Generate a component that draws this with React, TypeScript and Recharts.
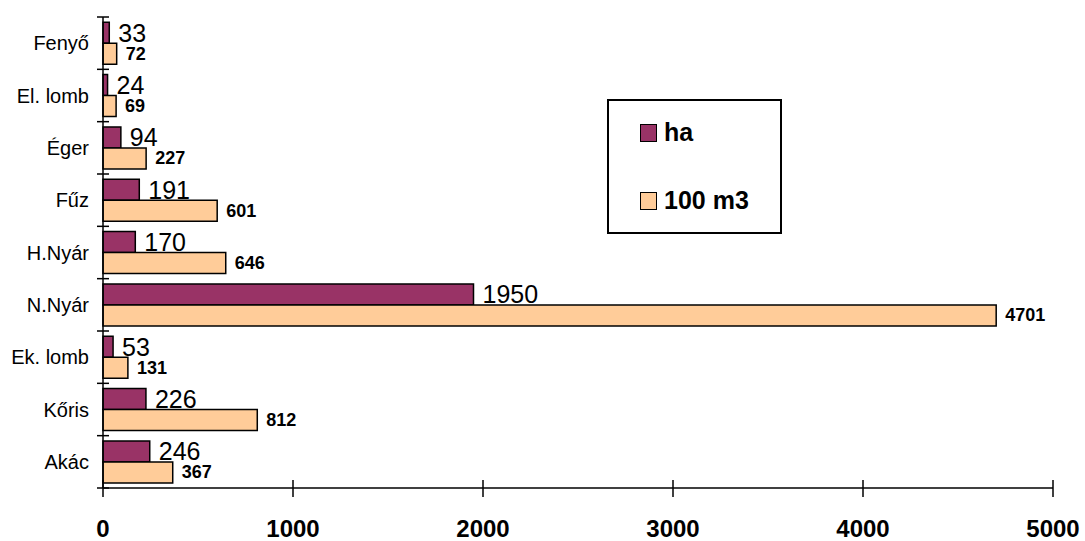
import { BarChart, Bar, XAxis, YAxis, LabelList } from 'recharts';

const categories = ['Fenyő', 'El. lomb', 'Éger', 'Fűz', 'H.Nyár', 'N.Nyár', 'Ek. lomb', 'Kőris', 'Akác'];
const haValues = [33, 24, 94, 191, 170, 1950, 53, 226, 246];
const m3Values = [72, 69, 227, 601, 646, 4701, 131, 812, 367];
const xTicks = [0, 1000, 2000, 3000, 4000, 5000];
const seriesNames = ['ha', '100 m3'];
const seriesColors = ['#993366', '#FFCC99'];

const data = categories.map((name, i) => ({ name, ha: haValues[i], m3: m3Values[i] }));

const W = 1085;
const H = 541;
const M = { top: 17, right: 32, left: 0, bottom: 0 };
const Y_W = 103;
const X_H = 53;
const HALF_BAND = (H - M.top - X_H) / categories.length / 2;
const FONT = '"Liberation Sans", Arial, sans-serif';

function YTick(props: any) {
  const { x, y, payload, index } = props;
  const half = HALF_BAND;
  return (
    <g>
      <line x1={x - 6} x2={x + 6} y1={y - half} y2={y - half} stroke="#000" strokeWidth={1.5} />
      {index === categories.length - 1 && (
        <line x1={x - 6} x2={x + 6} y1={y + half} y2={y + half} stroke="#000" strokeWidth={1.5} />
      )}
      <text x={x - 14} y={y} textAnchor="end" dominantBaseline="central" fontSize={20} fontFamily={FONT} fill="#000">
        {payload.value}
      </text>
    </g>
  );
}

function XTick(props: any) {
  const { x, y, payload } = props;
  return (
    <g>
      <line x1={x} x2={x} y1={y - 8} y2={y + 9} stroke="#000" strokeWidth={1.5} />
      <text x={x} y={y + 40} textAnchor="middle" dominantBaseline="central" fontSize={24} fontWeight="bold" fontFamily={FONT} fill="#000">
        {payload.value}
      </text>
    </g>
  );
}

const haLabel = (p: any) => (
  <text x={p.x + p.width + 9} y={p.y + p.height / 2} dominantBaseline="central" fontSize={25} fontFamily={FONT} fill="#000">
    {p.value}
  </text>
);

const m3Label = (p: any) => (
  <text x={p.x + p.width + 9} y={p.y + p.height / 2} dominantBaseline="central" fontSize={18} fontWeight="bold" fontFamily={FONT} fill="#000">
    {p.value}
  </text>
);

function LegendBox() {
  return (
    <div style={{ position: 'absolute', left: 607, top: 99, width: 175, height: 135, border: '2px solid #000', background: '#fff', display: 'flex', flexDirection: 'column', justifyContent: 'center', gap: 38, paddingLeft: 31, boxSizing: 'border-box' }}>
      {seriesNames.map((label, i) => (
        <div key={label} style={{ display: 'flex', alignItems: 'center', height: 30 }}>
          <span style={{ width: 15, height: 16, background: seriesColors[i], border: '1.5px solid #000', marginRight: 7 }} />
          <span style={{ fontSize: 25, fontWeight: 'bold', fontFamily: FONT, color: '#000' }}>{label}</span>
        </div>
      ))}
    </div>
  );
}

export default function App() {
  return (
    <div style={{ position: 'absolute', left: 0, top: 0, width: W, height: H, background: '#fff' }}>
      <BarChart width={W} height={H} data={data} layout="vertical" margin={M} barCategoryGap="10%" barGap={0}>
        <XAxis
          type="number"
          domain={[0, 5000]}
          ticks={xTicks}
          height={X_H}
          tickSize={0}
          tickMargin={0}
          tickLine={false}
          axisLine={{ stroke: '#000', strokeWidth: 1.5 }}
          tick={<XTick />}
          interval={0}
        />
        <YAxis
          type="category"
          dataKey="name"
          width={Y_W}
          tickSize={0}
          tickMargin={0}
          tickLine={false}
          axisLine={{ stroke: '#000', strokeWidth: 1.5 }}
          tick={<YTick />}
          interval={0}
        />
        <Bar dataKey="ha" name={seriesNames[0]} fill={seriesColors[0]} stroke="#000" strokeWidth={1.5} isAnimationActive={false}>
          <LabelList dataKey="ha" content={haLabel} />
        </Bar>
        <Bar dataKey="m3" name={seriesNames[1]} fill={seriesColors[1]} stroke="#000" strokeWidth={1.5} isAnimationActive={false}>
          <LabelList dataKey="m3" content={m3Label} />
        </Bar>
      </BarChart>
      <LegendBox />
    </div>
  );
}
